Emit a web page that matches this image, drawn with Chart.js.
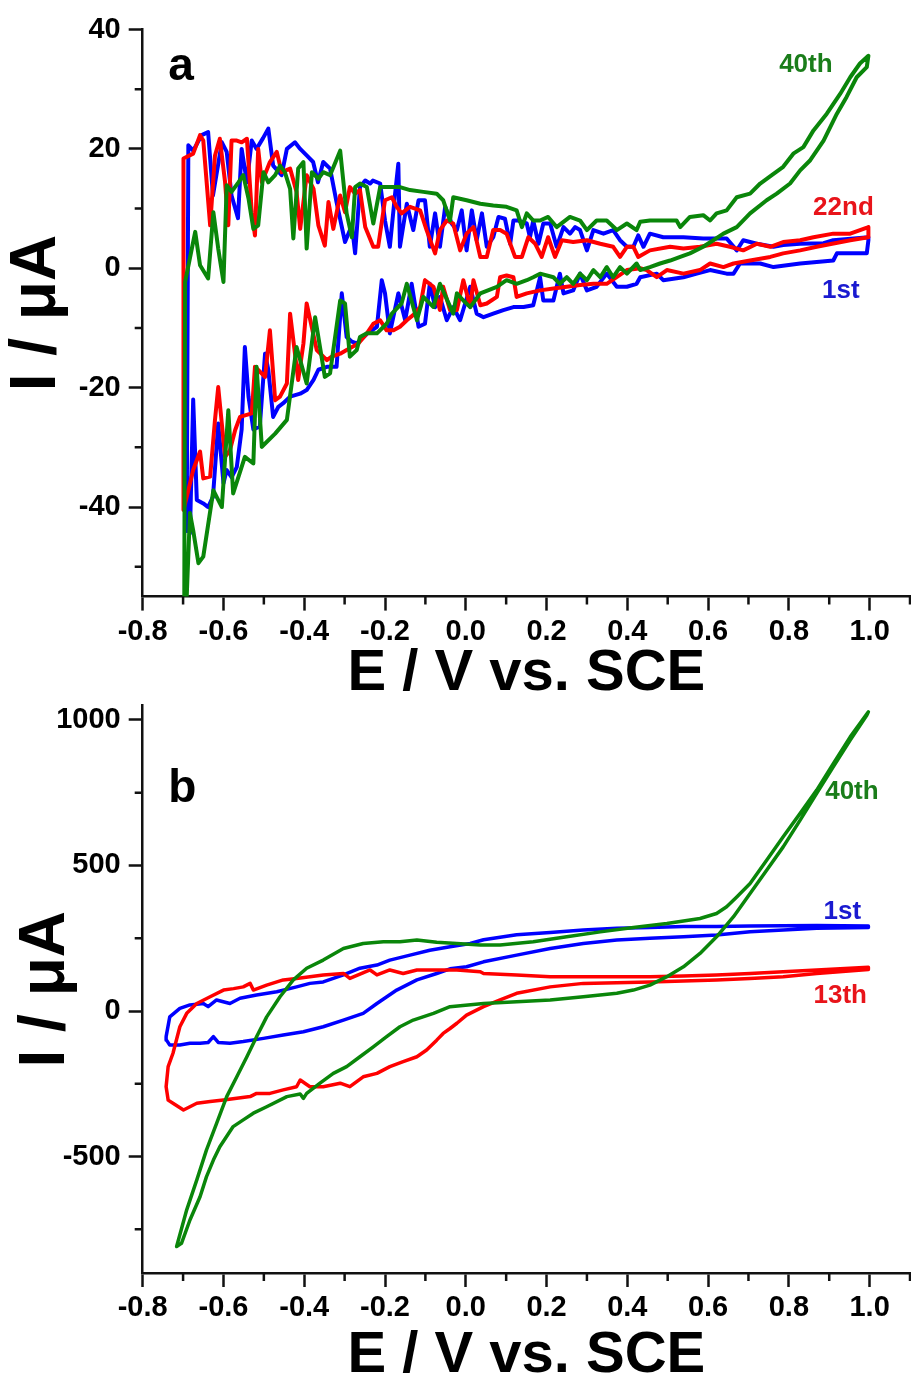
<!DOCTYPE html>
<html>
<head>
<meta charset="utf-8">
<script src="https://cdn.jsdelivr.net/npm/chart.js@4.4.1/dist/chart.umd.min.js"></script>
<style>
  html, body { margin: 0; padding: 0; background: #fff; }
  body { width: 911px; height: 1385px; position: relative; overflow: hidden; }
  canvas { position: absolute; left: 0; }
  #cvA { top: 0; }
  #cvB { top: 680px; }
</style>
</head>
<body>
<canvas id="cvA" width="911" height="703"></canvas>
<canvas id="cvB" width="911" height="705"></canvas>
<script>
// axis ticks
const eTicks = [-0.8, -0.6, -0.4, -0.2, 0.0, 0.2, 0.4, 0.6, 0.8, 1.0];
const eMinor = [-0.7, -0.5, -0.3, -0.1, 0.1, 0.3, 0.5, 0.7, 0.9, 1.1];
const iTicksA = [-40, -20, 0, 20, 40];
const iMinorA = [-50, -30, -10, 10, 30];
const iTicksB = [-500, 0, 500, 1000];
const iMinorB = [-750, -250, 250, 750];

// panel a, [E / V, I / uA], forward scan then return scan
const a1st = [
  [-0.691,-44],[-0.687,20.6],[-0.675,19.7],[-0.654,22.3],[-0.638,22.8],[-0.626,12.2],[-0.604,21.1],[-0.592,19.5],[-0.580,12.2],[-0.564,8.4],
  [-0.555,20],[-0.542,14.4],[-0.530,21.4],[-0.518,20],[-0.502,21.8],[-0.489,23.4],[-0.477,17.2],[-0.456,15.6],[-0.443,20],[-0.423,21.1],
  [-0.410,20],[-0.394,18.9],[-0.378,17.8],[-0.366,14.4],[-0.353,17.8],[-0.336,16.7],[-0.320,11.1],[-0.299,4.4],[-0.282,7.2],[-0.274,2.5],
  [-0.262,13.6],[-0.249,14.7],[-0.237,14.2],[-0.230,14.7],[-0.212,14.2],[-0.200,8],[-0.188,3.6],[-0.175,12.5],[-0.167,17.5],[-0.163,3.6],
  [-0.146,10.8],[-0.130,6.4],[-0.117,11.4],[-0.101,11.4],[-0.089,3.6],[-0.076,9.2],[-0.064,3.6],[-0.051,10.3],[-0.035,7.5],[-0.022,6.4],
  [-0.010,9.7],[0.002,3],[0.015,9.7],[0.027,4.7],[0.040,9.2],[0.052,3.6],[0.068,5.2],[0.081,8.6],[0.097,8.3],[0.110,4.1],
  [0.118,8],[0.130,8],[0.151,7.5],[0.159,5.2],[0.167,8],[0.180,4.1],[0.192,7.5],[0.209,7.5],[0.225,3.6],[0.242,6.9],
  [0.258,5.8],[0.271,6.9],[0.283,6.4],[0.300,3],[0.316,6.4],[0.341,5.8],[0.365,6.4],[0.382,4.7],[0.399,3.6],[0.415,3.6],
  [0.427,5.5],[0.440,3.6],[0.456,5.8],[0.489,5.2],[0.539,5.2],[0.588,5],[0.646,5],[0.671,3],[0.687,4.7],[0.721,4.1],
  [0.762,3.6],[0.786,3.9],[0.828,4.1],[0.886,4.2],[0.910,4.7],[0.997,5.2],
  [0.997,4.7],[0.993,2.5],[0.919,2.5],[0.910,1.3],[0.828,0.8],[0.762,0.2],[0.729,0.8],[0.679,0.8],[0.663,-0.9],[0.646,-0.9],
  [0.605,-0.3],[0.572,-0.9],[0.539,-1.5],[0.489,-2],[0.473,-0.9],[0.432,-1.5],[0.423,-2.6],[0.399,-3.1],[0.374,-3.1],[0.349,-0.9],
  [0.324,-3.1],[0.300,-3.7],[0.283,-0.9],[0.266,-3.7],[0.242,-4.2],[0.233,-0.9],[0.217,-5.4],[0.192,-5.4],[0.184,-1.5],[0.167,-6.2],
  [0.143,-6.5],[0.118,-6.5],[0.093,-7],[0.068,-7.6],[0.044,-8.2],[0.027,-7.6],[0.011,-3.1],[-0.014,-8.7],[-0.031,-6.5],[-0.047,-8.7],
  [-0.064,-4.8],[-0.076,-6.5],[-0.089,-2.6],[-0.101,-9.3],[-0.117,-9.8],[-0.134,-2.6],[-0.150,-8.7],[-0.167,-4.2],[-0.188,-10.9],[-0.200,-4.2],
  [-0.208,-2],[-0.220,-9.8],[-0.245,-11],[-0.270,-12.6],[-0.282,-12.3],[-0.295,-11.5],[-0.307,-4.2],[-0.320,-16.5],[-0.344,-16.5],[-0.365,-17],
  [-0.377,-18.7],[-0.394,-20.4],[-0.410,-21],[-0.435,-21.5],[-0.452,-22.6],[-0.464,-23.2],[-0.477,-24.9],[-0.489,-17],[-0.497,-14.3],[-0.510,-26.5],
  [-0.526,-27],[-0.538,-21.5],[-0.547,-13.2],[-0.555,-27],[-0.567,-33.3],[-0.580,-35],[-0.592,-33.8],[-0.600,-36],[-0.613,-26],[-0.626,-38.3],
  [-0.638,-40],[-0.650,-39.4],[-0.666,-38.8],[-0.675,-22],[-0.683,-44.4],[-0.691,-34]
];
const a22nd = [
  [-0.699,-40.5],[-0.699,18.4],[-0.675,19.2],[-0.658,22.3],[-0.650,21.4],[-0.633,7.2],[-0.621,18.9],[-0.609,21.7],[-0.596,14.4],[-0.588,7.2],
  [-0.580,21.4],[-0.567,21.4],[-0.555,21.1],[-0.542,21.7],[-0.530,9.4],[-0.522,5.5],[-0.514,20],[-0.505,14.4],[-0.485,17.8],[-0.468,19.5],
  [-0.456,16.1],[-0.435,16.7],[-0.419,12.8],[-0.410,6.6],[-0.394,15.6],[-0.377,13.3],[-0.365,7.2],[-0.349,3.8],[-0.340,11.1],[-0.328,6.6],
  [-0.311,12.2],[-0.299,9.4],[-0.287,13.6],[-0.274,12.5],[-0.262,13.1],[-0.249,6.9],[-0.229,3.6],[-0.217,3.6],[-0.200,11.4],[-0.183,11.9],
  [-0.171,10.3],[-0.159,9.2],[-0.138,10.3],[-0.113,9.7],[-0.097,6.4],[-0.076,2.5],[-0.064,6.4],[-0.047,8],[-0.031,7.5],[-0.014,3],
  [0.002,5.8],[0.019,6.9],[0.036,1.9],[0.052,1.9],[0.068,6.4],[0.085,6.4],[0.101,5.8],[0.122,1.9],[0.139,1.9],[0.155,5.2],
  [0.172,4.1],[0.188,1.9],[0.204,5.2],[0.221,1.9],[0.238,4.7],[0.266,4.4],[0.300,4.7],[0.333,4.1],[0.365,3.6],[0.382,1.9],
  [0.399,3.6],[0.415,3.6],[0.427,1.9],[0.456,3],[0.506,3.6],[0.539,3.3],[0.580,3.6],[0.621,4.1],[0.654,3.6],[0.687,3],
  [0.721,4.1],[0.754,3.6],[0.786,4.4],[0.828,4.7],[0.861,5.2],[0.910,5.8],[0.952,5.8],[0.997,6.9],
  [0.997,5.2],[0.952,4.7],[0.869,3.6],[0.828,3],[0.786,2.5],[0.754,1.9],[0.704,1.3],[0.663,0.8],[0.638,0.2],[0.605,0.8],
  [0.580,-0.3],[0.539,-0.9],[0.498,-0.3],[0.473,-1.5],[0.448,-0.3],[0.432,0],[0.399,-0.3],[0.349,-2.6],[0.316,-2.6],[0.283,-2.8],
  [0.250,-3.1],[0.217,-3.4],[0.184,-3.7],[0.151,-4.2],[0.126,-4.8],[0.118,-1.5],[0.101,-1.2],[0.085,-1.5],[0.077,-4.8],[0.052,-5.9],
  [0.036,-6.2],[0.019,-2],[0.011,-6.5],[-0.006,-2],[-0.022,-7],[-0.039,-7],[-0.056,-3.1],[-0.064,-7],[-0.080,-3.1],[-0.101,-2],
  [-0.113,-6.5],[-0.126,-7.6],[-0.146,-8.7],[-0.163,-9.8],[-0.179,-10.4],[-0.196,-10.4],[-0.212,-8.7],[-0.229,-9.3],[-0.245,-10.9],[-0.266,-12.6],
  [-0.295,-13.7],[-0.311,-14.3],[-0.332,-14.8],[-0.344,-15.4],[-0.369,-13.7],[-0.394,-5.9],[-0.402,-12.6],[-0.415,-18.7],[-0.435,-7.6],[-0.443,-19.3],
  [-0.460,-21.5],[-0.472,-22.1],[-0.485,-10.4],[-0.497,-18.2],[-0.522,-16.5],[-0.530,-24.3],[-0.559,-24.9],[-0.571,-27.1],[-0.584,-30.5],[-0.596,-31.6],
  [-0.613,-19.9],[-0.621,-25.4],[-0.633,-34.9],[-0.650,-35.2],[-0.658,-30.7],[-0.675,-33.8],[-0.687,-37.2],[-0.699,-40.5]
];
const a40th = [
  [-0.697,-55],[-0.695,-2.3],[-0.670,6.1],[-0.658,0.5],[-0.638,-1.7],[-0.625,9.4],[-0.613,3.3],[-0.600,-2.3],[-0.592,13.9],[-0.580,12.8],
  [-0.563,14.4],[-0.551,15.6],[-0.538,11.7],[-0.526,6.6],[-0.514,7.2],[-0.501,16.1],[-0.489,14.4],[-0.472,15.6],[-0.460,17.2],[-0.448,16.1],
  [-0.435,13.3],[-0.427,5],[-0.415,16.7],[-0.402,17.8],[-0.394,3.3],[-0.381,16.1],[-0.365,15],[-0.353,16.1],[-0.336,15.6],[-0.311,19.7],
  [-0.295,9.2],[-0.282,5.2],[-0.274,13.6],[-0.262,14.2],[-0.245,13.6],[-0.229,7.5],[-0.212,13.6],[-0.188,13.6],[-0.163,13.6],[-0.138,13.1],
  [-0.105,12.8],[-0.072,12.5],[-0.056,11.4],[-0.039,8],[-0.031,11.9],[0.002,11.4],[0.036,10.8],[0.068,10.5],[0.101,10.3],[0.126,9.7],
  [0.139,6.9],[0.151,9.2],[0.167,8],[0.184,8],[0.204,8.6],[0.225,6.9],[0.258,8.6],[0.283,8],[0.300,6.4],[0.324,8],
  [0.349,8],[0.374,6.4],[0.399,7.5],[0.423,6.4],[0.432,7.8],[0.456,8],[0.522,8],[0.531,6.9],[0.555,8.6],[0.588,8.9],
  [0.605,8],[0.621,9.2],[0.646,9.7],[0.671,11.9],[0.704,12.5],[0.729,14.2],[0.762,15.8],[0.786,17],[0.811,19.2],[0.836,20.3],
  [0.861,23.1],[0.894,25.9],[0.927,29.2],[0.952,32],[0.976,34.3],[0.997,35.6],
  [0.993,33.7],[0.968,32],[0.943,28.7],[0.919,25.9],[0.886,21.4],[0.853,18.1],[0.828,16.4],[0.803,14.2],[0.770,12.5],[0.745,11.4],
  [0.704,9.2],[0.671,6.9],[0.638,5.8],[0.613,4.7],[0.588,3.6],[0.555,2.5],[0.531,1.9],[0.506,1.3],[0.481,0.8],[0.456,0.2],
  [0.432,-0.3],[0.423,0.8],[0.399,-0.9],[0.382,0.2],[0.365,-1.5],[0.349,0.2],[0.333,-1.5],[0.316,-0.3],[0.300,-2],[0.283,-0.9],
  [0.266,-2.6],[0.250,-1.5],[0.233,-2.6],[0.217,-1.5],[0.184,-0.9],[0.167,-1.5],[0.151,-2],[0.126,-2.6],[0.101,-2],[0.077,-3.1],
  [0.036,-4.2],[0.011,-6.5],[-0.006,-5.4],[-0.022,-4.2],[-0.031,-7.6],[-0.064,-2.6],[-0.080,-6.5],[-0.105,-4.8],[-0.121,-8.7],[-0.146,-2.6],
  [-0.159,-5.9],[-0.183,-7.6],[-0.196,-9.3],[-0.220,-10.9],[-0.245,-10.9],[-0.262,-11.5],[-0.270,-13.7],[-0.287,-14.8],[-0.299,-5.9],[-0.311,-5.4],
  [-0.336,-17.6],[-0.349,-18.2],[-0.373,-8.2],[-0.394,-19.3],[-0.419,-13.2],[-0.443,-25.4],[-0.472,-27.7],[-0.505,-29.9],[-0.518,-16.5],[-0.526,-32.7],
  [-0.547,-31.6],[-0.576,-37.7],[-0.588,-23.8],[-0.604,-40],[-0.625,-37.2],[-0.650,-48.3],[-0.662,-49.4],[-0.675,-43.9],[-0.683,-41],[-0.691,-55]
];

// panel b
const b1st = [
  [-0.742,-88],[-0.733,-20],[-0.708,9],[-0.683,21],[-0.650,26],[-0.638,15],[-0.617,38],[-0.584,26],[-0.559,44],[-0.518,55],
  [-0.468,66],[-0.419,83],[-0.386,95],[-0.353,100],[-0.303,124],[-0.262,147],[-0.220,158],[-0.188,175],[-0.138,192],[-0.089,209],
  [-0.039,221],[0.011,232],[0.044,245],[0.126,262],[0.209,270],[0.291,278],[0.374,284],[0.456,287],[0.539,290],[0.621,290],
  [0.704,292],[0.786,293],[0.869,294],[0.997,292],
  [0.997,287],[0.869,284],[0.786,278],[0.704,272],[0.621,261],[0.539,255],[0.456,250],[0.374,244],[0.291,232],[0.209,215],
  [0.126,192],[0.044,169],[0.002,152],[-0.039,145],[-0.072,129],[-0.121,107],[-0.171,72],[-0.220,26],[-0.254,-8],[-0.303,-31],
  [-0.353,-54],[-0.402,-71],[-0.452,-82],[-0.501,-94],[-0.551,-105],[-0.584,-111],[-0.613,-108],[-0.625,-88],[-0.638,-108],[-0.658,-111],
  [-0.683,-111],[-0.708,-117],[-0.733,-117],[-0.741,-100],[-0.742,-88]
];
const b13th = [
  [-0.737,-306],[-0.742,-260],[-0.737,-191],[-0.725,-145],[-0.708,-54],[-0.691,-8],[-0.666,26],[-0.633,49],[-0.600,72],[-0.575,77],
  [-0.551,83],[-0.534,95],[-0.526,72],[-0.493,89],[-0.452,107],[-0.419,112],[-0.386,118],[-0.353,124],[-0.303,129],[-0.287,112],
  [-0.237,141],[-0.220,124],[-0.188,141],[-0.155,129],[-0.121,141],[-0.072,141],[-0.022,141],[0.036,135],[0.044,129],[0.126,124],
  [0.209,118],[0.291,118],[0.374,118],[0.456,118],[0.539,120],[0.621,124],[0.704,129],[0.786,135],[0.869,141],[0.997,150],
  [0.997,143],[0.869,129],[0.786,118],[0.704,112],[0.621,107],[0.539,103],[0.456,100],[0.374,97],[0.291,95],[0.209,83],
  [0.126,61],[0.085,38],[0.044,15],[0.002,-14],[-0.022,-42],[-0.039,-60],[-0.056,-77],[-0.072,-100],[-0.097,-134],[-0.121,-157],
  [-0.155,-174],[-0.188,-191],[-0.220,-214],[-0.254,-226],[-0.287,-260],[-0.311,-248],[-0.353,-260],[-0.386,-260],[-0.410,-237],[-0.419,-260],
  [-0.452,-271],[-0.485,-283],[-0.518,-283],[-0.534,-294],[-0.567,-300],[-0.600,-306],[-0.633,-311],[-0.666,-317],[-0.699,-340],[-0.725,-317],
  [-0.737,-306]
];
const b40th = [
  [-0.716,-809],[-0.691,-683],[-0.666,-580],[-0.642,-477],[-0.617,-386],[-0.592,-294],[-0.567,-226],[-0.542,-157],[-0.518,-88],[-0.493,-20],
  [-0.460,49],[-0.427,107],[-0.394,147],[-0.353,175],[-0.303,215],[-0.254,232],[-0.204,238],[-0.163,238],[-0.121,244],[-0.072,236],
  [-0.022,232],[0.036,227],[0.085,227],[0.167,238],[0.250,255],[0.333,272],[0.415,287],[0.498,301],[0.580,318],[0.621,335],
  [0.646,358],[0.671,392],[0.704,438],[0.745,518],[0.786,599],[0.828,679],[0.869,759],[0.910,850],[0.952,942],[0.997,1028],
  [0.993,1016],[0.952,931],[0.910,839],[0.869,748],[0.828,656],[0.786,564],[0.745,484],[0.704,404],[0.663,324],[0.621,255],
  [0.580,198],[0.539,152],[0.498,118],[0.456,89],[0.415,72],[0.374,61],[0.291,49],[0.209,38],[0.126,32],[0.044,26],
  [-0.039,15],[-0.080,-8],[-0.130,-31],[-0.163,-54],[-0.196,-88],[-0.229,-123],[-0.262,-157],[-0.295,-191],[-0.328,-214],[-0.361,-248],
  [-0.394,-283],[-0.402,-300],[-0.410,-285],[-0.443,-294],[-0.493,-329],[-0.526,-351],[-0.551,-374],[-0.576,-397],[-0.609,-466],[-0.625,-512],
  [-0.642,-569],[-0.658,-638],[-0.683,-718],[-0.704,-798],[-0.716,-809]
];

const FONT = 'Arial, "Liberation Sans", Helvetica, sans-serif';
const BLUE = '#0000ff', RED = '#ff0000', GREEN = '#0a860a';

// minor ticks + text notes
const cvMarks = {
  id: 'cvMarks',
  afterDatasetsDraw(chart, args, opts) {
    const ctx = chart.ctx;
    const xs = chart.scales.x, ys = chart.scales.y;
    ctx.save();
    ctx.strokeStyle = '#111';
    ctx.lineWidth = 2.5;
    ctx.beginPath();
    opts.xMinor.forEach(v => {
      const px = xs.getPixelForValue(v);
      ctx.moveTo(px, xs.top);
      ctx.lineTo(px, xs.top + 8);
    });
    opts.yMinor.forEach(v => {
      const py = ys.getPixelForValue(v);
      ctx.moveTo(ys.right, py);
      ctx.lineTo(ys.right - 8, py);
    });
    ctx.stroke();
    ctx.textAlign = 'left';
    ctx.textBaseline = 'alphabetic';
    opts.notes.forEach(n => {
      ctx.fillStyle = n.color;
      ctx.font = 'bold ' + n.size + 'px ' + FONT;
      ctx.fillText(n.text, xs.getPixelForValue(n.x), ys.getPixelForValue(n.y));
    });
    ctx.restore();
  }
};

function panel(id, cfg) {
  return new Chart(document.getElementById(id), {
    type: 'line',
    data: {
      datasets: cfg.series.map(s => ({
        data: s.data.map(p => ({x: p[0], y: p[1]})),
        borderColor: s.color,
        borderWidth: cfg.lw,
        pointRadius: 0,
        tension: 0,
        fill: false,
        borderJoinStyle: 'round',
        borderCapStyle: 'round'
      }))
    },
    options: {
      responsive: false,
      animation: false,
      events: [],
      layout: { padding: { top: cfg.padTop, left: 0, right: 1, bottom: 0 } },
      plugins: {
        legend: { display: false },
        tooltip: { enabled: false },
        cvMarks: { xMinor: eMinor, yMinor: cfg.yMinor, notes: cfg.notes }
      },
      scales: {
        x: {
          type: 'linear', min: -0.8, max: 1.1,
          afterBuildTicks: s => { s.ticks = eTicks.map(v => ({value: v})); },
          afterFit: s => { s.height = cfg.xHeight; },
          ticks: { color: '#000', padding: 4, font: { family: FONT, size: 29, weight: 'bold' },
                   callback: v => v.toFixed(1) },
          grid: { drawOnChartArea: false, tickLength: 14, tickWidth: 2.5, tickColor: '#111' },
          border: { color: '#111', width: 2.5 },
          title: { display: true, text: 'E / V vs. SCE', color: '#000', padding: 0,
                   font: { family: FONT, size: 58, weight: 'bold', lineHeight: 1 } }
        },
        y: {
          type: 'linear', min: cfg.yMin, max: cfg.yMax,
          afterBuildTicks: s => { s.ticks = cfg.yTicks.map(v => ({value: v})); },
          afterFit: s => { s.width = 142.7; },
          ticks: { color: '#000', padding: 8, font: { family: FONT, size: 29, weight: 'bold' },
                   callback: v => String(v) },
          grid: { drawOnChartArea: false, tickLength: 14, tickWidth: 2.5, tickColor: '#111' },
          border: { color: '#111', width: 2.5 },
          title: { display: true, text: 'I / μA', color: '#000', padding: { top: cfg.yTitlePad, bottom: 0 },
                   font: { family: FONT, size: 64, weight: 'bold', lineHeight: 1 } }
        }
      }
    },
    plugins: [cvMarks]
  });
}

panel('cvA', {
  series: [ {data: a40th, color: GREEN}, {data: a22nd, color: RED}, {data: a1st, color: BLUE} ],
  lw: 4, padTop: 29.5, xHeight: 106.4, yTitlePad: 5.5,
  yMin: -55, yMax: 40, yTicks: iTicksA, yMinor: iMinorA,
  notes: [
    { text: 'a', x: -0.737, y: 31.5, size: 46, color: '#000' },
    { text: '40th', x: 0.776, y: 32.9, size: 26, color: '#1a7d1a' },
    { text: '22nd', x: 0.860, y: 8.9, size: 26, color: '#e8141a' },
    { text: '1st', x: 0.882, y: -5.0, size: 26, color: '#1a1ad0' }
  ]
});

panel('cvB', {
  series: [ {data: b40th, color: GREEN}, {data: b13th, color: RED}, {data: b1st, color: BLUE} ],
  lw: 3.5, padTop: 25, xHeight: 112, yTitlePad: 14,
  yMin: -900, yMax: 1050, yTicks: iTicksB, yMinor: iMinorB,
  notes: [
    { text: 'b', x: -0.737, y: 718, size: 46, color: '#000' },
    { text: '40th', x: 0.890, y: 730, size: 26, color: '#1a7d1a' },
    { text: '1st', x: 0.886, y: 315, size: 26, color: '#1a1ad0' },
    { text: '13th', x: 0.861, y: 26, size: 26, color: '#e8141a' }
  ]
});
</script>
</body>
</html>
